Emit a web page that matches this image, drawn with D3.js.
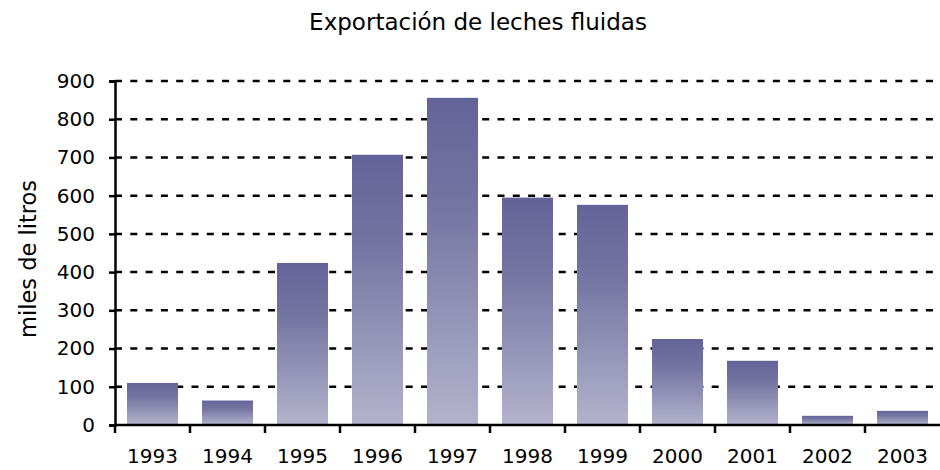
<!DOCTYPE html>
<html><head><meta charset="utf-8">
<script src="https://cdn.jsdelivr.net/npm/d3@7"></script>
<style>body{margin:0;background:#fff}svg{display:block}text{font-family:"DejaVu Sans",Verdana,sans-serif;fill:#000}</style>
</head><body><svg id="c" width="940" height="470"></svg>
<script>
const categories=["1993","1994","1995","1996","1997","1998","1999","2000","2001","2002","2003"];
const values=[110,64,424,707,856,595,576,225,168,24,37];
const yTicks=[0,100,200,300,400,500,600,700,800,900];
const title="Exportación de leches fluidas";
const yTitle="miles de litros";

const svg=d3.select("#c");
const m={l:115,r:0,t:81,b:45};
const W=940,H=470;
const x=d3.scaleBand().domain(categories).range([m.l,W-m.r]).paddingInner(0.32).paddingOuter(0.16);
const y=d3.scaleLinear().domain([0,900]).range([425,81]);

const defs=svg.append("defs");
const g=defs.append("linearGradient").attr("id","bg").attr("x1",0).attr("y1",0).attr("x2",0).attr("y2",1);
g.append("stop").attr("offset","0%").attr("stop-color","#636399");
g.append("stop").attr("offset","35%").attr("stop-color","#7676a3");
g.append("stop").attr("offset","100%").attr("stop-color","#b3b3cd");

// gridlines
svg.append("g").selectAll("line").data(yTicks.filter(d=>d>0)).join("line")
 .attr("x1",m.l).attr("x2",W).attr("y1",d=>y(d)).attr("y2",d=>y(d))
 .attr("stroke","#000").attr("stroke-width",2.5).attr("stroke-dasharray","7,8.3");

// bars
svg.append("g").selectAll("rect").data(values).join("rect")
 .attr("x",(d,i)=>x(categories[i])).attr("width",x.bandwidth())
 .attr("y",d=>y(d)).attr("height",d=>y(0)-y(d)).attr("fill","url(#bg)");

// y axis
const ya=svg.append("g").attr("transform",`translate(${m.l},0)`)
 .call(d3.axisLeft(y).tickValues(yTicks).tickSize(6).tickPadding(14));
ya.select(".domain").attr("stroke-width",2.5);
ya.selectAll(".tick line").attr("stroke-width",2.5);
ya.selectAll(".tick text").attr("font-size",20).style("font-family","'DejaVu Sans',Verdana,sans-serif");

// x axis
const step=x.step();
const bounds=d3.range(categories.length).map(i=>m.l+i*step);
const xa=svg.append("g");
xa.append("line").attr("x1",m.l-1).attr("x2",W).attr("y1",y(0)).attr("y2",y(0)).attr("stroke","#000").attr("stroke-width",2.5);
xa.selectAll("line.t").data(bounds).join("line").attr("class","t")
 .attr("x1",d=>d).attr("x2",d=>d).attr("y1",y(0)).attr("y2",y(0)+8).attr("stroke","#000").attr("stroke-width",2.5);
xa.selectAll("text").data(categories).join("text")
 .attr("x",d=>x(d)+x.bandwidth()/2).attr("y",463).attr("text-anchor","middle").attr("font-size",20).text(d=>d);

svg.append("text").attr("x",478).attr("y",30).attr("text-anchor","middle").attr("font-size",23).text(title);
svg.append("text").attr("transform","translate(36,259) rotate(-90)").attr("text-anchor","middle").attr("font-size",22.5).text(yTitle);
</script></body></html>
